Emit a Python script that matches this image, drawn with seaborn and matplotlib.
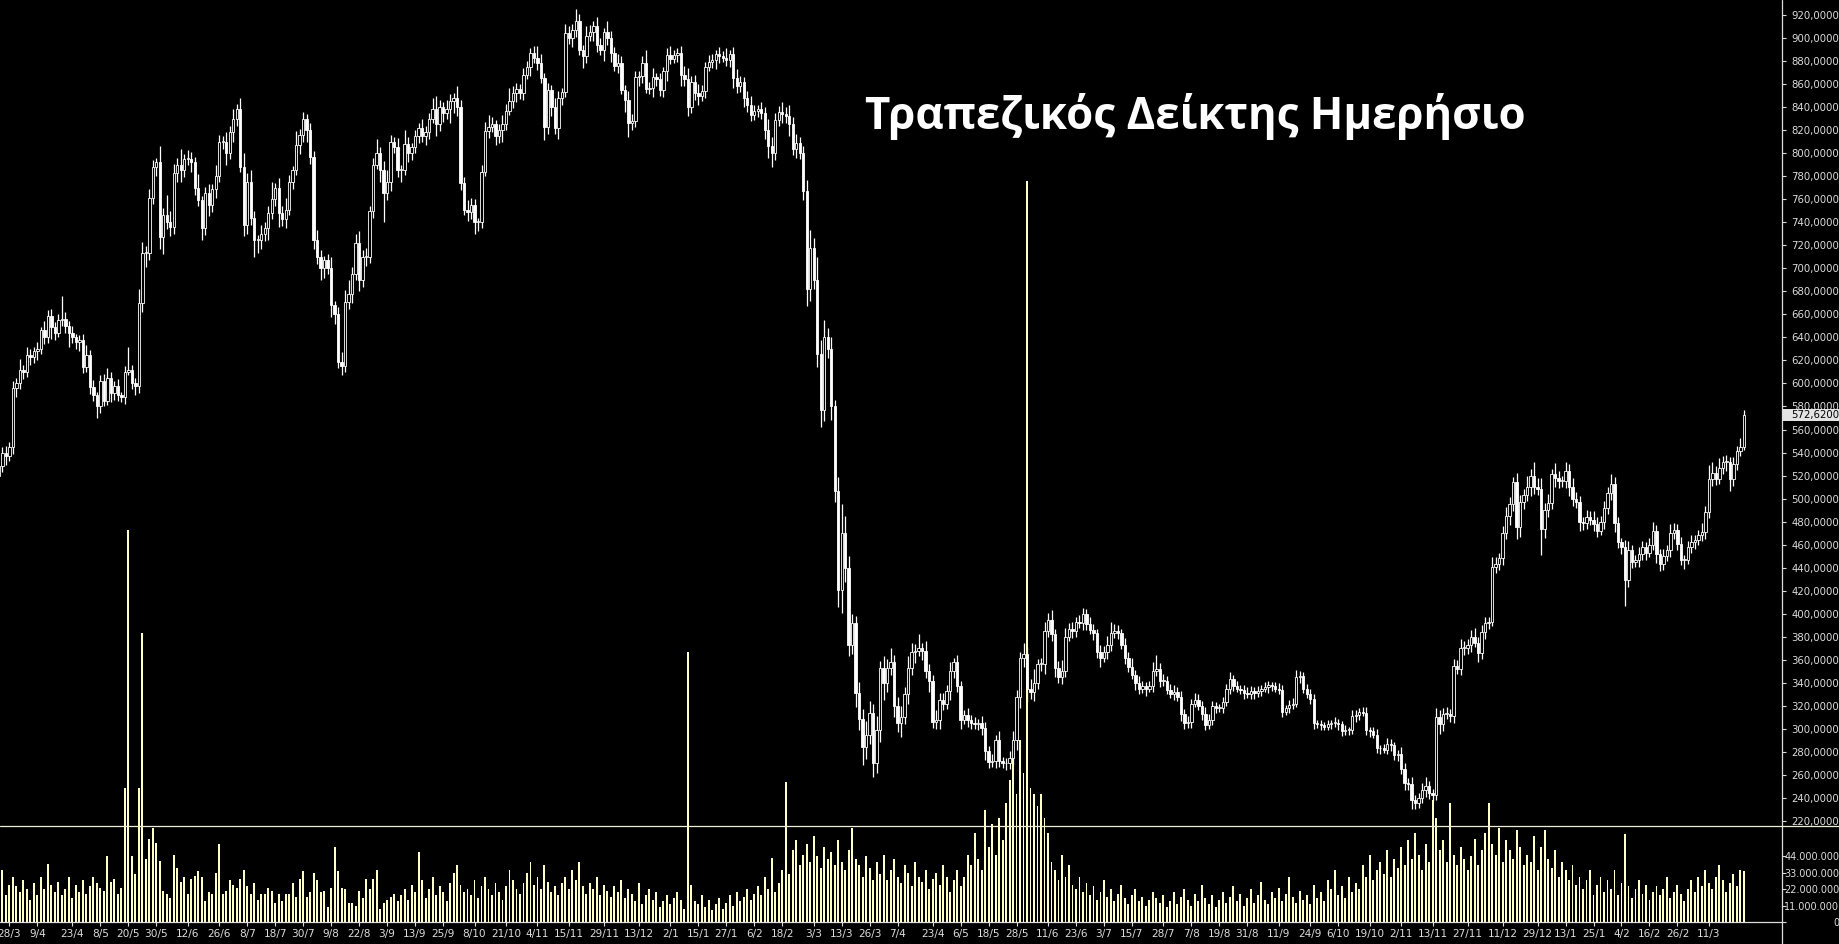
import numpy as np
import pandas as pd
import seaborn as sns
import matplotlib.pyplot as plt
from matplotlib.lines import Line2D
from matplotlib.patches import Rectangle
from matplotlib.transforms import blended_transform_factory

# daily closes of the bank index (22/3/2019 .. 24/3/2021)
first_open = 520
closes = [
    528, 540, 537, 545, 596, 600, 612, 610, 625, 623,
    628, 630, 646, 640, 659, 649, 644, 655, 656, 650,
    644, 640, 636, 638, 614, 625, 597, 590, 580, 602,
    585, 605, 592, 598, 590, 588, 610, 612, 600, 598,
    670, 713, 713, 761, 788, 792, 727, 746, 740, 736,
    783, 790, 785, 795, 795, 792, 770, 759, 735, 765,
    755, 769, 780, 810, 810, 800, 818, 830, 838, 788,
    738, 775, 744, 725, 725, 730, 735, 748, 760, 770,
    748, 743, 751, 775, 785, 807, 816, 830, 820, 797,
    725, 710, 700, 707, 700, 668, 660, 619, 615, 671,
    678, 695, 722, 690, 710, 710, 750, 790, 800, 785,
    765, 775, 810, 805, 785, 785, 808, 800, 805, 815,
    822, 815, 818, 830, 838, 825, 840, 835, 838, 845,
    848, 840, 774, 751, 749, 755, 740, 740, 784, 819,
    823, 825, 815, 820, 825, 837, 845, 852, 856, 852,
    868, 875, 887, 883, 878, 865, 823, 855, 840, 822,
    848, 853, 904, 900, 907, 915, 890, 884, 902, 905,
    910, 894, 890, 905, 900, 887, 876, 878, 855, 846,
    826, 828, 866, 867, 878, 856, 857, 866, 864, 855,
    871, 885, 882, 885, 887, 868, 864, 840, 862, 852,
    850, 854, 875, 879, 881, 886, 884, 883, 881, 886,
    865, 858, 862, 848, 842, 833, 837, 838, 835, 820,
    806, 800, 829, 836, 834, 832, 825, 804, 809, 800,
    767, 682, 718, 690, 626, 577, 640, 630, 580, 507,
    421, 470, 440, 373, 392, 331, 309, 284, 295, 314,
    270, 299, 353, 340, 353, 358, 320, 305, 310, 330,
    353, 367, 368, 370, 368, 350, 342, 306, 308, 325,
    322, 333, 350, 358, 337, 308, 312, 308, 305, 304,
    305, 301, 281, 271, 272, 290, 272, 270, 270, 275,
    290, 328, 362, 365, 335, 332, 340, 356, 356, 385,
    395, 382, 353, 345, 350, 380, 387, 385, 393, 392,
    400, 391, 386, 383, 367, 362, 367, 373, 383, 385,
    383, 373, 362, 354, 347, 340, 335, 337, 335, 337,
    350, 352, 342, 342, 334, 330, 332, 328, 313, 305,
    306, 322, 325, 320, 313, 303, 308, 320, 318, 318,
    323, 335, 343, 337, 335, 334, 331, 330, 333, 331,
    333, 335, 336, 338, 337, 335, 334, 315, 318, 321,
    322, 345, 346, 335, 330, 326, 305, 304, 303, 302,
    304, 305, 305, 304, 298, 299, 299, 311, 312, 315,
    314, 299, 298, 295, 283, 283, 282, 287, 286, 277,
    278, 265, 253, 252, 238, 236, 240, 247, 250, 244,
    243, 310, 304, 313, 313, 311, 355, 352, 370, 370,
    373, 380, 375, 366, 384, 392, 393, 441, 443, 448,
    470, 485, 495, 514, 475, 497, 503, 510, 520, 510,
    508, 474, 490, 496, 521, 518, 515, 515, 524, 510,
    500, 497, 480, 479, 484, 481, 478, 472, 480, 492,
    505, 513, 479, 462, 458, 429, 455, 445, 447, 452,
    458, 453, 460, 472, 452, 443, 450, 455, 470, 473,
    461, 447, 447, 458, 462, 464, 468, 471, 488, 517,
    522, 517, 527, 532, 532, 517, 530, 541, 545, 572.62,
]

# how far the high / low wicks stick out of the body (index points)
wick_up = [
    8, 5, 6, 4, 6, 5, 9, 4, 7, 5,    4, 6, 3, 8, 5, 6, 4, 5, 20, 6,
    4, 6, 3, 4, 5, 8, 4, 6, 3, 5,    6, 8, 5, 4, 6, 3, 5, 20, 4, 5,
    12, 10, 6, 8, 6, 4, 14, 6, 18, 10,    8, 6, 14, 4, 8, 6, 5, 12, 4, 6,
    8, 4, 10, 6, 5, 8, 6, 8, 5, 10,    12, 8, 10, 6, 4, 8, 5, 6, 15, 4,
    8, 6, 10, 6, 4, 12, 5, 6, 4, 6,    5, 8, 6, 4, 5, 10, 4, 6, 8, 10,
    12, 6, 8, 10, 6, 8, 4, 6, 12, 5,    8, 10, 6, 4, 8, 5, 12, 6, 4, 5,
    4, 8, 6, 5, 10, 12, 6, 4, 8, 6,    4, 10, 6, 5, 8, 6, 5, 4, 6, 8,
    10, 6, 4, 5, 8, 6, 12, 6, 5, 4,    6, 5, 4, 6, 10, 8, 5, 6, 4, 8,
    6, 4, 8, 6, 5, 10, 6, 4, 8, 6,    5, 8, 6, 4, 10, 6, 5, 8, 6, 4,
    8, 6, 5, 4, 6, 12, 5, 8, 4, 6,    4, 6, 8, 5, 4, 6, 8, 10, 5, 6,
    8, 5, 4, 6, 5, 4, 6, 5, 8, 4,    6, 8, 5, 4, 6, 8, 5, 4, 6, 5,
    10, 8, 6, 5, 8, 6, 10, 6, 8, 5,    6, 10, 15, 8, 20, 12, 15, 8, 10, 6,
    12, 25, 15, 10, 8, 6, 10, 8, 12, 10,    8, 12, 6, 10, 8, 12, 6, 8, 10, 6,
    10, 8, 6, 12, 5, 8, 6, 5, 8, 6,    6, 5, 8, 4, 6, 5, 4, 6, 4, 5,
    4, 6, 5, 4, 6, 5, 8, 4, 5, 6,    8, 6, 5, 10, 6, 8, 12, 5, 6, 8,
    6, 8, 5, 6, 10, 8, 5, 6, 4, 6,    5, 4, 6, 5, 4, 6, 5, 8, 10, 6,
    5, 4, 6, 5, 8, 4, 6, 5, 4, 5,    8, 12, 5, 6, 4, 5, 6, 4, 5, 4,
    5, 4, 6, 5, 4, 6, 5, 4, 3, 4,    5, 4, 6, 4, 5, 3, 4, 5, 4, 3,
    4, 3, 5, 4, 3, 4, 5, 4, 3, 4,    5, 6, 4, 3, 4, 5, 4, 3, 4, 3,
    4, 3, 5, 4, 3, 4, 3, 5, 4, 3,    4, 5, 3, 4, 5, 3, 4, 5, 4, 3,
    4, 6, 5, 4, 6, 5, 4, 6, 8, 5,    4, 8, 6, 5, 6, 4, 6, 5, 8, 6,
    5, 6, 8, 5, 6, 5, 4, 8, 6, 5,    6, 8, 6, 5, 8, 6, 5, 10, 6, 12,
    8, 10, 6, 8, 5, 10, 6, 5, 8, 6,    8, 6, 5, 4, 6, 5, 8, 6, 5, 6,
    5, 8, 6, 5, 4, 6, 8, 5, 4, 6,    5, 4, 6, 8, 5, 4, 6, 5, 8, 6,
    5, 6, 4, 5, 6, 4, 5, 8, 6, 12,    10, 6, 8, 5, 6, 4, 6, 5, 8, 4,
]
wick_down = [
    10, 5, 8, 4, 6, 8, 5, 6, 4, 7,    5, 8, 4, 6, 5, 10, 6, 4, 5, 6,
    12, 5, 6, 8, 5, 4, 6, 5, 10, 6,    5, 4, 8, 6, 5, 4, 6, 3, 5, 8,
    6, 8, 12, 6, 5, 8, 10, 15, 6, 8,    6, 8, 10, 6, 5, 8, 6, 5, 10, 6,
    10, 6, 8, 5, 6, 10, 5, 8, 6, 4,    10, 8, 6, 15, 12, 8, 6, 10, 5, 6,
    12, 6, 8, 5, 6, 4, 8, 6, 10, 6,    8, 6, 10, 8, 5, 10, 8, 6, 8, 5,
    6, 8, 5, 10, 6, 8, 5, 6, 4, 10,    25, 6, 8, 5, 6, 10, 4, 8, 6, 5,
    6, 5, 8, 6, 4, 10, 6, 8, 5, 12,    10, 8, 6, 5, 8, 6, 10, 8, 5, 4,
    6, 5, 8, 6, 10, 5, 4, 6, 8, 5,    6, 4, 8, 5, 6, 4, 12, 6, 8, 5,
    10, 6, 4, 5, 8, 6, 5, 10, 6, 5,    8, 6, 5, 10, 6, 8, 5, 6, 4, 10,
    12, 6, 5, 8, 6, 4, 5, 8, 6, 5,    6, 8, 5, 4, 6, 10, 6, 8, 5, 6,
    8, 5, 6, 4, 5, 8, 6, 4, 5, 6,    8, 6, 5, 8, 6, 5, 4, 6, 5, 8,
    10, 12, 6, 5, 8, 6, 10, 6, 8, 5,    8, 15, 10, 8, 12, 15, 10, 8, 12, 10,
    15, 20, 12, 10, 8, 12, 10, 15, 10, 8,    12, 8, 10, 15, 8, 6, 10, 8, 12, 6,
    8, 6, 10, 5, 8, 6, 10, 5, 6, 8,    6, 5, 8, 6, 5, 8, 4, 6, 5, 4,
    5, 6, 8, 5, 4, 6, 5, 4, 6, 5,    6, 8, 10, 8, 12, 6, 8, 5, 6, 8,
    5, 6, 8, 5, 6, 5, 4, 6, 5, 4,    6, 5, 4, 6, 5, 8, 4, 6, 5, 4,
    5, 4, 6, 5, 4, 6, 5, 4, 6, 3,    5, 4, 6, 5, 4, 3, 5, 4, 6, 5,
    4, 5, 3, 4, 5, 4, 3, 5, 4, 3,    4, 3, 5, 4, 3, 4, 5, 3, 4, 5,
    3, 4, 3, 5, 4, 3, 4, 5, 3, 4,    4, 3, 5, 4, 3, 4, 5, 3, 4, 3,
    3, 4, 3, 5, 4, 3, 4, 3, 5, 4,    3, 4, 5, 3, 4, 5, 3, 4, 5, 4,
    5, 4, 6, 5, 8, 6, 5, 4, 6, 5,    6, 5, 8, 6, 4, 5, 6, 4, 5, 6,
    5, 6, 4, 8, 5, 6, 5, 4, 6, 5,    6, 5, 8, 6, 10, 8, 6, 5, 8, 6,
    5, 23, 8, 6, 5, 8, 6, 5, 6, 8,    6, 5, 8, 6, 5, 4, 6, 5, 4, 6,
    5, 6, 8, 5, 6, 22, 6, 5, 4, 6,    5, 6, 4, 5, 8, 6, 5, 4, 6, 5,
    6, 5, 8, 4, 5, 6, 4, 5, 6, 5,    6, 5, 4, 6, 8, 10, 6, 5, 4, 3,
]

# traded volume, millions of shares
volume_m = [
    22, 35, 18, 25, 30, 24, 20, 28, 22, 15,    26, 18, 30, 22, 39, 25, 20, 27, 18, 22,
    30, 16, 25, 20, 28, 19, 24, 30, 26, 23,    21, 44, 27, 29, 19, 23, 90, 263, 44, 32,
    90, 194, 42, 56, 63, 53, 41, 21, 19, 16,    45, 36, 27, 30, 19, 29, 31, 34, 30, 14,
    20, 19, 33, 52, 19, 21, 28, 25, 23, 29,    35, 24, 19, 26, 15, 19, 19, 23, 21, 13,
    19, 14, 19, 19, 26, 17, 29, 34, 17, 20,    33, 28, 20, 21, 10, 23, 50, 34, 23, 22,
    13, 13, 11, 21, 16, 29, 22, 29, 35, 9,    13, 15, 17, 19, 14, 18, 22, 15, 25, 20,
    47, 28, 16, 22, 30, 18, 24, 20, 14, 26,    33, 38, 25, 20, 22, 18, 28, 16, 24, 30,
    22, 18, 26, 20, 15, 24, 35, 28, 22, 19,    26, 33, 40, 25, 30, 22, 38, 27, 20, 24,
    18, 26, 30, 22, 35, 28, 40, 24, 19, 26,    22, 30, 18, 25, 21, 17, 24, 20, 28, 16,
    22, 19, 14, 26, 12, 18, 22, 15, 20, 10,    14, 18, 12, 16, 20, 15, 9, 181, 25, 14,
    12, 18, 10, 15, 8, 12, 16, 9, 13, 18,    11, 20, 14, 17, 22, 15, 19, 24, 18, 30,
    22, 43, 20, 26, 35, 94, 32, 48, 55, 38,    45, 52, 40, 58, 44, 36, 50, 42, 47, 38,
    55, 40, 35, 48, 63, 42, 38, 30, 44, 36,    28, 40, 32, 45, 28, 35, 42, 30, 26, 38,
    33, 24, 40, 30, 27, 35, 22, 29, 33, 25,    38, 30, 20, 28, 35, 24, 30, 45, 38, 60,
    42, 35, 75, 50, 66, 45, 70, 55, 80, 95,    110, 86, 122, 100, 497, 90, 86, 78, 86, 70,
    60, 40, 35, 28, 45, 30, 38, 25, 22, 30,    20, 26, 18, 24, 15, 20, 28, 17, 22, 14,
    19, 25, 16, 12, 18, 22, 14, 17, 11, 15,    20, 16, 13, 18, 10, 14, 20, 12, 17, 22,
    15, 11, 19, 14, 25, 16, 12, 18, 10, 15,    20, 13, 17, 24, 14, 19, 11, 16, 22, 13,
    18, 27, 15, 12, 20, 16, 23, 14, 19, 30,    17, 13, 21, 15, 18, 12, 25, 16, 20, 14,
    28, 22, 35, 18, 24, 16, 30, 20, 26, 22,    38, 30, 45, 28, 35, 40, 32, 48, 30, 42,
    36, 50, 38, 55, 42, 60, 45, 35, 52, 40,    82, 70, 48, 55, 40, 80, 45, 38, 50, 42,
    35, 44, 56, 38, 48, 60, 80, 52, 45, 63,    40, 55, 48, 42, 62, 50, 38, 45, 40, 58,
    35, 50, 62, 42, 36, 48, 30, 40, 35, 28,    38, 25, 30, 22, 28, 35, 18, 25, 30, 20,
    28, 22, 35, 18, 26, 59, 24, 16, 22, 28,    19, 25, 15, 20, 24, 18, 22, 30, 16, 20,
    25, 19, 14, 22, 28, 20, 30, 24, 35, 26,    22, 30, 38, 28, 20, 26, 32, 24, 35, 34,
]

# Athens exchange closing days in the period
holidays = [
    "2019-03-25", "2019-04-26", "2019-04-29", "2019-05-01", "2019-06-17", "2019-08-15",
    "2019-10-28", "2019-12-24", "2019-12-25", "2019-12-26", "2019-12-31",
    "2020-01-01", "2020-01-06", "2020-03-02", "2020-03-25", "2020-04-17", "2020-04-20",
    "2020-05-01", "2020-06-08", "2020-10-28", "2020-12-24", "2020-12-25", "2020-12-31",
    "2021-01-01", "2021-01-06", "2021-03-15", "2021-03-25",
]

tick_dates = [
    "2019-03-28", "2019-04-09", "2019-04-23", "2019-05-08", "2019-05-20", "2019-05-30",
    "2019-06-12", "2019-06-26", "2019-07-08", "2019-07-18", "2019-07-30", "2019-08-09",
    "2019-08-22", "2019-09-03", "2019-09-13", "2019-09-25", "2019-10-08", "2019-10-21",
    "2019-11-04", "2019-11-15", "2019-11-29", "2019-12-13", "2020-01-02", "2020-01-15",
    "2020-01-27", "2020-02-06", "2020-02-18", "2020-03-03", "2020-03-13", "2020-03-26",
    "2020-04-07", "2020-04-23", "2020-05-06", "2020-05-18", "2020-05-28", "2020-06-11",
    "2020-06-23", "2020-07-03", "2020-07-15", "2020-07-28", "2020-08-07", "2020-08-19",
    "2020-08-31", "2020-09-11", "2020-09-24", "2020-10-06", "2020-10-19", "2020-11-02",
    "2020-11-13", "2020-11-27", "2020-12-11", "2020-12-29", "2021-01-13", "2021-01-25",
    "2021-02-04", "2021-02-16", "2021-02-26", "2021-03-11",
]

price_ticks = list(range(220, 921, 20))
volume_ticks = [0, 11, 22, 33, 44]
title = "Τραπεζικός Δείκτης Ημερήσιο"

n = len(closes)
assert len(wick_up) == n and len(wick_down) == n and len(volume_m) == n, \
    (n, len(wick_up), len(wick_down), len(volume_m))

all_days = pd.bdate_range("2019-03-22", "2021-04-30")
days = all_days[~all_days.isin(pd.to_datetime(holidays))][:n]

df = pd.DataFrame({"date": days, "close": closes, "volume": volume_m})
df["open"] = np.concatenate([[first_open], df["close"].values[:-1]])
df["high"] = np.maximum(df["open"], df["close"]) + np.array(wick_up)
df["low"] = np.minimum(df["open"], df["close"]) - np.array(wick_down)
df["x"] = np.arange(n)

tick_pos = days.get_indexer(pd.to_datetime(tick_dates), method="nearest")
tick_lab = [f"{d.day}/{d.month}" for d in pd.to_datetime(tick_dates)]

sns.set_theme(style="dark", rc={"axes.facecolor": "black", "figure.facecolor": "black",
                                "axes.grid": False})
plt.rcParams["font.family"] = ["DejaVu Sans"]

W, H = 1840, 944
fig = plt.figure(figsize=(W / 100, H / 100), dpi=100, facecolor="black")
ax_vol = fig.add_axes([0, 22 / H, 1782 / W, 922 / H])
ax = ax_vol.twinx()
ax.patch.set_visible(False)

txt = "#DCDCDC"

# volume bars (behind the candles, tall spikes run up into the price area)
ax_vol.bar(df["x"], df["volume"], width=0.55, color="#FFFFC8", linewidth=0)

# candles: hollow = up day, filled = down day
up = df["close"] >= df["open"]
body_lo = np.minimum(df["open"], df["close"])
body_h = np.maximum((df["close"] - df["open"]).abs(), 0.8)
ax.vlines(df["x"], df["low"], df["high"], color="white", linewidth=0.9, zorder=2)
ax.bar(df["x"][up], body_h[up], bottom=body_lo[up], width=0.68,
       facecolor="black", edgecolor="white", linewidth=0.6, zorder=3)
ax.bar(df["x"][~up], body_h[~up], bottom=body_lo[~up], width=0.68,
       facecolor="white", edgecolor="white", linewidth=0.6, zorder=3)

ax_vol.set_xlim(0.3, 509.9)
ax_vol.set_ylim(0, 618.4)
ax.set_ylim(132.3, 933.0)

for a in (ax, ax_vol):
    for s in a.spines.values():
        s.set_visible(False)
    a.grid(False)

# date axis
ax_vol.set_xticks(tick_pos)
ax_vol.set_xticklabels(tick_lab)
ax_vol.tick_params(axis="x", direction="out", length=3, width=0.8, color=txt,
                   labelcolor=txt, labelsize=7.6, pad=2, bottom=True)

# right hand scales, labels right aligned at the figure edge
pad_pt = (1839 - 1782 - 4) / 1.389
ax.set_yticks(price_ticks)
ax.set_yticklabels([f"{v},0000" for v in price_ticks])
ax.tick_params(axis="y", direction="out", length=3, width=0.8, color=txt,
               labelcolor=txt, labelsize=7.3, pad=pad_pt, right=True, left=False)
ax_vol.yaxis.tick_right()
ax_vol.set_yticks(volume_ticks)
ax_vol.set_yticklabels(["0" if v == 0 else f"{v}.000.000" for v in volume_ticks])
ax_vol.tick_params(axis="y", direction="out", length=3, width=0.8, color=txt,
                   labelcolor=txt, labelsize=7.0, pad=pad_pt, right=True, left=False)
for a in (ax, ax_vol):
    for t in a.yaxis.get_ticklabels():
        t.set_horizontalalignment("right")

# last price marker
last = df["close"].iloc[-1]
tr = blended_transform_factory(fig.transFigure, ax.transData)
ax.add_patch(Rectangle((1783 / W, last - 5.6), 57 / W, 11.2, transform=tr,
                       facecolor="#E4E4E4", edgecolor="none", clip_on=False, zorder=10))
ax.text(1839 / W, last, f"{last:.4f}".replace(".", ","), transform=tr, ha="right",
        va="center", fontsize=7.3, color="black", clip_on=False, zorder=11)

# frame lines
fig.add_artist(Line2D([1782 / W, 1782 / W], [0, 1], color=txt, linewidth=0.9))
fig.add_artist(Line2D([0, 1782 / W], [1 - 922 / H, 1 - 922 / H], color=txt, linewidth=0.9))
fig.add_artist(Line2D([0, 1], [1 - 826 / H, 1 - 826 / H], color="#EEEED8", linewidth=0.9))

fig.text(1195 / W, 1 - 129 / H, title, ha="center", va="baseline", color="white",
         fontsize=31.5, fontweight="bold", family=["Open Sans", "DejaVu Sans"])

fig.savefig("out.png", dpi=100, facecolor="black")
